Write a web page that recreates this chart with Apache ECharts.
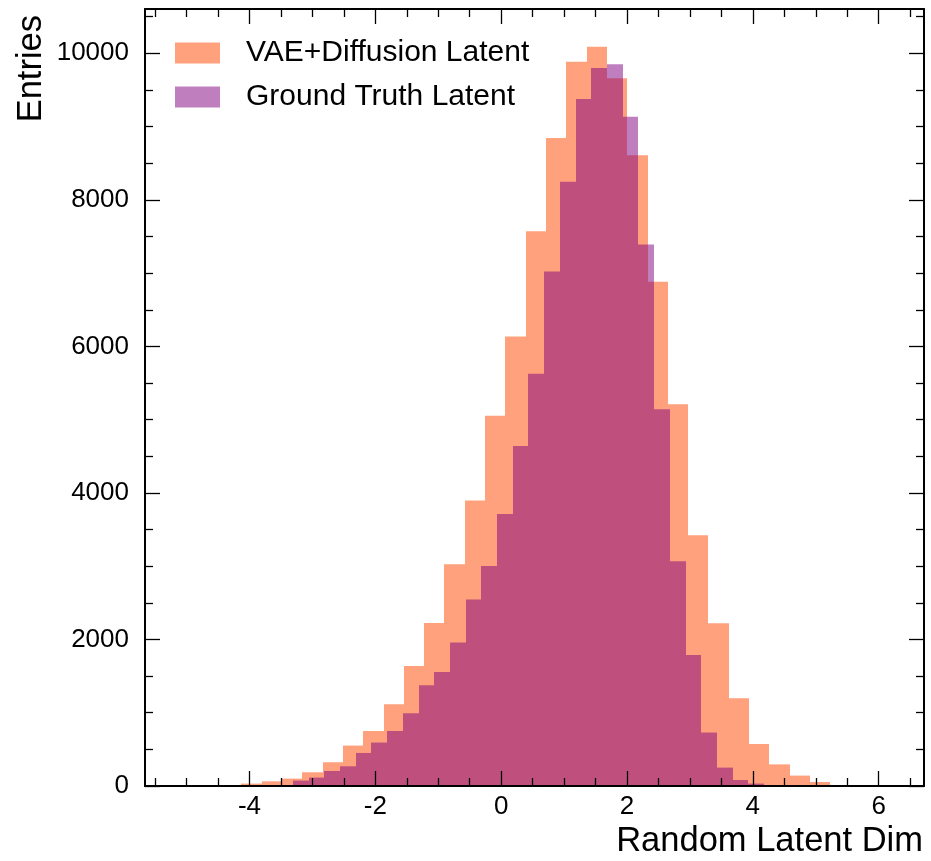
<!DOCTYPE html>
<html>
<head>
<meta charset="utf-8">
<script src="https://cdn.jsdelivr.net/npm/echarts@6/dist/echarts.min.js"></script>
<style>
  html, body { margin: 0; padding: 0; background: #ffffff; }
  #chart { width: 931px; height: 861px; }
</style>
</head>
<body>
<div id="chart"></div>
<script>
const FONT = '"Liberation Sans", Arial, Helvetica, sans-serif';

const seriesNames = ['VAE+Diffusion Latent', 'Ground Truth Latent'];

// VAE+Diffusion histogram: first bin edge, bin width, entries per bin
const diffusionBinStart = -4.128;
const diffusionBinWidth = 0.3227;
const diffusionCounts = [33, 64, 101, 187, 324, 552, 751, 1115, 1638, 2226, 3027, 3897, 5052, 6136,
  7570, 8844, 9885, 10090, 9659, 8608, 6881, 5212, 3423, 2221, 1197, 573, 295, 142, 55];

// Ground-truth histogram: first bin edge, bin width, entries per bin
const truthBinStart = -3.31;
const truthBinWidth = 0.2496;
const truthCounts = [74, 115, 205, 269, 451, 593, 751, 993, 1375, 1557, 1958, 2545, 3004, 3714, 4642,
  5625, 7023, 8247, 9376, 9799, 9850, 9134, 7392, 5143, 3068, 1789, 730, 251, 82, 33];

// Axis ranges and tick positions
const xRange = [-5.66, 6.72];
const yRange = [0, 10605];
const xMajorTicks = [-4, -2, 0, 2, 4, 6];
const xMinorTicks = [-5.5, -5, -4.5, -3.5, -3, -2.5, -1.5, -1, -0.5, 0.5, 1, 1.5, 2.5, 3, 3.5, 4.5, 5, 5.5, 6.5];
const yMajorTicks = [0, 2000, 4000, 6000, 8000, 10000];
const yMinorTicks = [500, 1000, 1500, 2500, 3000, 3500, 4500, 5000, 5500, 6500, 7000, 7500, 8500, 9000, 9500, 10500];

const xTitle = 'Random Latent Dim';
const yTitle = 'Entries';

const colors = ['#FFA17D', 'rgba(128, 0, 128, 0.5)'];

// Turn (first edge, width, counts) into [low edge, high edge, count] rows
function toBins(start, width, counts) {
  return counts.map((c, i) => [start + i * width, start + (i + 1) * width, c]);
}

function makeAxis(kind, position, ticks, len, showLine, showLabels) {
  const isX = kind === 'x';
  return {
    type: 'value',
    position: position,
    min: isX ? xRange[0] : yRange[0],
    max: isX ? xRange[1] : yRange[1],
    axisLine: { show: showLine, onZero: false, lineStyle: { color: '#000', width: 2 } },
    axisTick: {
      show: true, inside: true, length: len, customValues: ticks,
      lineStyle: { color: '#000', width: 1.3 }
    },
    axisLabel: {
      show: showLabels, customValues: ticks, margin: isX ? 8 : 16,
      fontSize: 26, color: '#000', fontFamily: FONT,
      formatter: v => String(v)
    },
    minorTick: { show: false },
    splitLine: { show: false },
    z: 10
  };
}

// Filled histogram: each bin is a rectangle from its low edge to its high edge,
// with edges snapped to whole pixels so neighbouring bins meet without seams
function histogram(name, bins, color, z) {
  return {
    type: 'custom',
    name: name,
    xAxisIndex: 0,
    yAxisIndex: 0,
    data: bins,
    encode: { x: [0, 1], y: 2 },
    itemStyle: { color: color },
    z: z,
    renderItem: (params, api) => {
      const top = api.coord([api.value(0), api.value(2)]);
      const base = api.coord([api.value(1), 0]);
      const x0 = Math.round(top[0]);
      const x1 = Math.round(base[0]);
      return {
        type: 'rect',
        shape: { x: x0, y: top[1], width: x1 - x0, height: base[1] - top[1] },
        style: { fill: api.visual('color') }
      };
    }
  };
}

const chart = echarts.init(document.getElementById('chart'), null, { renderer: 'canvas' });

chart.setOption({
  animation: false,
  backgroundColor: '#ffffff',
  textStyle: { fontFamily: FONT },
  grid: { left: 145, right: 7, top: 9, bottom: 75, containLabel: false },
  xAxis: [
    makeAxis('x', 'bottom', xMajorTicks, 15, true, true),
    makeAxis('x', 'bottom', xMinorTicks, 8, false, false),
    makeAxis('x', 'top', xMajorTicks, 15, true, false),
    makeAxis('x', 'top', xMinorTicks, 8, false, false)
  ],
  yAxis: [
    makeAxis('y', 'left', yMajorTicks, 15, true, true),
    makeAxis('y', 'left', yMinorTicks, 8, false, false),
    makeAxis('y', 'right', yMajorTicks, 15, true, false),
    makeAxis('y', 'right', yMinorTicks, 8, false, false)
  ],
  legend: {
    orient: 'vertical',
    left: 175,
    top: 38,
    padding: 0,
    itemGap: 14,
    itemWidth: 45,
    itemHeight: 21,
    icon: 'rect',
    selectedMode: false,
    textStyle: { fontSize: 30, color: '#000', fontFamily: FONT, padding: [0, 0, 0, 21] },
    data: [
      { name: seriesNames[0], itemStyle: { color: colors[0] } },
      { name: seriesNames[1], itemStyle: { color: colors[1] } }
    ]
  },
  graphic: [
    {
      type: 'text', x: 923, y: 841,
      style: { text: xTitle, fill: '#000', font: '34.5px ' + FONT, align: 'right', verticalAlign: 'middle' }
    },
    {
      type: 'text', x: 31.5, y: 15, rotation: Math.PI / 2,
      style: { text: yTitle, fill: '#000', font: '34.5px ' + FONT, align: 'right', verticalAlign: 'middle' }
    }
  ],
  series: [
    histogram(seriesNames[0], toBins(diffusionBinStart, diffusionBinWidth, diffusionCounts), colors[0], 2),
    histogram(seriesNames[1], toBins(truthBinStart, truthBinWidth, truthCounts), colors[1], 3)
  ]
});
</script>
</body>
</html>
